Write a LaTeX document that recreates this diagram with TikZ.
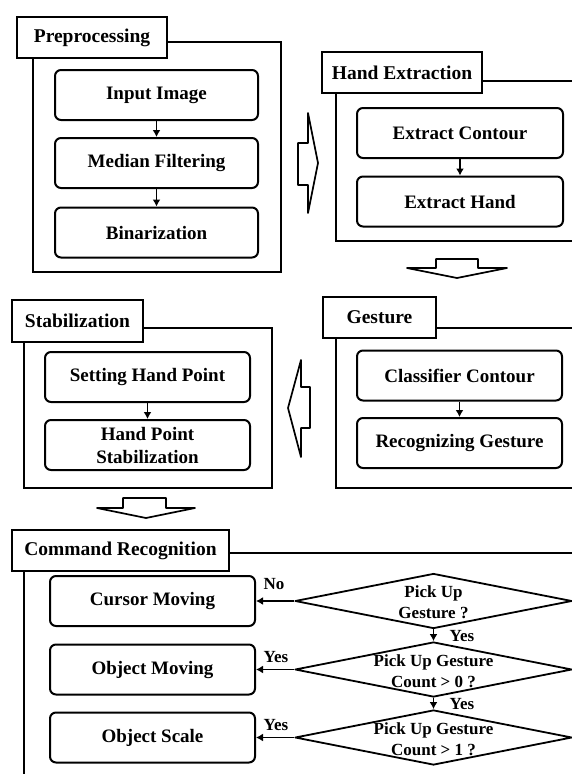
\documentclass[tikz,border=0pt]{standalone}
\usepackage{fontspec}
\setmainfont{Liberation Serif}
\usetikzlibrary{shapes.geometric,arrows.meta}

\tikzset{
    stagebox/.style={draw,line width=2pt,rounded corners=6pt,minimum width=205pt,
        minimum height=50pt,inner sep=0pt,align=center,
        font=\fontsize{19}{23}\selectfont\bfseries},
    titlebox/.style={draw,line width=2pt,minimum height=41pt,inner sep=0pt,
        font=\fontsize{19.5}{23}\selectfont\bfseries},
    framing/.style={line width=2pt},
    bigarrow/.style={line width=1.7pt,line join=round},
    link/.style={line width=1.8pt,->},
    query/.style={draw,diamond,line width=1.8pt,line join=round,minimum width=277pt,
        minimum height=55pt,inner sep=0pt},
    querytext/.style={align=center,inner sep=0pt,font=\fontsize{17}{20.5}\selectfont\bfseries},
    flag/.style={inner sep=0pt,font=\fontsize{17}{20}\selectfont\bfseries},
}

\begin{document}
\begin{tikzpicture}[x=1pt,y=-1pt,>={Latex[length=7pt,width=8pt]}]
    \clip (0,0) rectangle (572,774);
    \fill[white] (0,0) rectangle (572,774);

    % preprocessing
    \node[titlebox,minimum width=150pt] (pretitle) at (92,37.5) {Preprocessing};
    \draw[framing] (167,42) -| (281,272) -| (33,58);
    \node[stagebox,minimum width=203pt] (input) at (156.5,95) {Input Image};
    \node[stagebox,minimum width=203pt] (median) at (156.5,163) {Median Filtering};
    \node[stagebox,minimum width=203pt] (binar) at (156.5,232.5) {Binarization};
    \draw[link] (input) -- (median);
    \draw[link] (median) -- (binar);

    \draw[bigarrow] (298,143) -- (308,143) -- (308,113) -- (318,163)
        -- (308,213) -- (308,185) -- (298,185) -- cycle;

    % hand extraction
    \node[titlebox,minimum width=160pt] (handtitle) at (402,72.5) {Hand Extraction};
    \draw[framing] (482,81) -- (580,81);
    \draw[framing] (336,93) |- (580,241);
    \node[stagebox,minimum width=206pt] (contour) at (460,133) {Extract Contour};
    \node[stagebox,minimum width=206pt] (hand) at (460,201.5) {Extract Hand};
    \draw[link] (contour) -- (hand);

    \draw[bigarrow] (436,259) -- (478,259) -- (478,268) -- (507,268)
        -- (457,278) -- (407,268) -- (436,268) -- cycle;

    % gesture
    \node[titlebox,minimum width=113pt] (gesttitle) at (379.5,317.5) {Gesture};
    \draw[framing] (436,328) -- (580,328);
    \draw[framing] (336,338) |- (580,488);
    \node[stagebox] (classify) at (459.5,375.5) {Classifier Contour};
    \node[stagebox] (recog) at (459.5,443) {Recognizing Gesture};
    \draw[link] (classify) -- (recog);

    \draw[bigarrow] (310,387) -- (301,387) -- (301,360) -- (288,408)
        -- (301,457) -- (301,428) -- (310,428) -- cycle;

    % stabilization
    \node[titlebox,minimum width=131pt,minimum height=42pt] (stabtitle) at (77.5,321) {Stabilization};
    \draw[framing] (143,328) -| (272,488) -| (24,342);
    \node[stagebox] (setpt) at (147.5,377) {Setting Hand Point};
    \node[stagebox] (stab) at (147.5,445) {Hand Point\\Stabilization};
    \draw[link] (setpt) -- (stab);

    \draw[bigarrow] (123,498) -- (166,498) -- (166,508) -- (195,508)
        -- (146,518) -- (97,508) -- (123,508) -- cycle;

    % command recognition
    \node[titlebox,minimum width=217pt] (cmdtitle) at (120.5,550.5) {Command Recognition};
    \draw[framing] (229,553) -- (580,553);
    \draw[framing] (24,571) -- (24,780);
    \node[stagebox] (cursor) at (152.5,601) {Cursor Moving};
    \node[stagebox] (objmove) at (152.5,669.5) {Object Moving};
    \node[stagebox] (objscale) at (152.5,737.5) {Object Scale};

    \node[query] (pickup) at (433.5,601) {};
    \node[query] (countzero) at (433.5,669.5) {};
    \node[query] (countone) at (433.5,737.5) {};
    \node[querytext] at (433.5,602) {Pick Up\\Gesture ?};
    \node[querytext] at (433.5,671) {Pick Up Gesture\\Count > 0 ?};
    \node[querytext] at (433.5,739) {Pick Up Gesture\\Count > 1 ?};

    \draw[link] (pickup.west) -- (cursor.east);
    \draw[link] (countzero.west) -- (objmove.east);
    \draw[link] (countone.west) -- (objscale.east);
    \draw[link] (pickup.south) -- (countzero.north);
    \draw[link] (countzero.south) -- (countone.north);

    \node[flag] at (274,584) {No};
    \node[flag] at (276,657) {Yes};
    \node[flag] at (276,725) {Yes};
    \node[flag] at (462,636) {Yes};
    \node[flag] at (462,704) {Yes};
\end{tikzpicture}
\end{document}
